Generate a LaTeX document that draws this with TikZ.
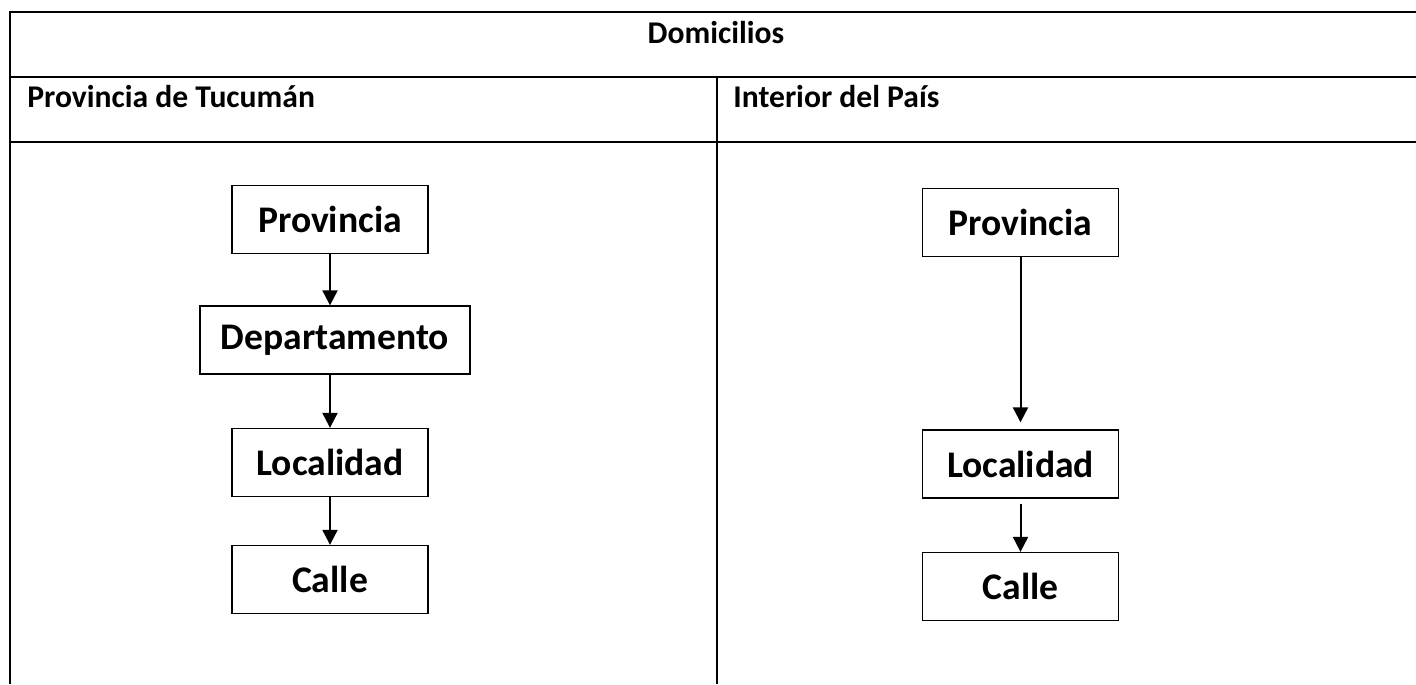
\documentclass[tikz,border=0pt]{standalone}
\usepackage{fontspec}
\setmainfont{Carlito}
\usetikzlibrary{positioning,arrows.meta}

\begin{document}
\begin{tikzpicture}[
    x=0.02cm, y=-0.02cm,
    regla/.style={line width=1.2pt},
    caja/.style={draw, line width=0.75pt, minimum width=3.92cm, minimum height=1.36cm, font=\fontsize{21.4}{25}\selectfont\bfseries},
    titulo/.style={font=\fontsize{18}{21}\selectfont\bfseries, inner sep=0pt},
    flecha/.style={draw, line width=1.15pt, -{Triangle[length=0.3cm, width=0.3cm]}}
]
\useasboundingbox (0,0) rectangle (1416,684);

% Table lines
\draw[regla] (10,684) -- (10,12) -- (1416,12);
\draw[regla] (10,77) -- (1416,77);
\draw[regla] (10,142) -- (1416,142);
\draw[regla] (717,77) -- (717,684);

% Headings
\node[titulo, anchor=base] (dom) at (716,43) {Domicilios};
\node[titulo, anchor=base west] (tuc) at (27,107) {Provincia de Tucumán};
\node[titulo, anchor=base west] (int) at (733,107) {Interior del País};

% Left column
\node[caja] (provA) at (330,219.5) {Provincia};
\node[caja, minimum width=5.4cm] (deptoA) at (335,340) {Departamento};
\node[caja] (locA) at (330,462.5) {Localidad};
\node[caja] (calleA) at (330,579.5) {Calle};

% Right column
\node[caja] (provB) at (1020.5,222.5) {Provincia};
\node[caja] (locB) at (1020.5,464) {Localidad};
\node[caja] (calleB) at (1020.5,586.5) {Calle};

% Arrows
\draw[flecha] (provA.south) -- (provA.south |- deptoA.north);
\draw[flecha] (provA.south |- deptoA.south) -- (locA.north);
\draw[flecha] (locA.south) -- (calleA.north);
\draw[flecha, shorten >=4pt] (provB.south) -- (locB.north);
\draw[flecha, shorten <=3pt] (locB.south) -- (calleB.north);

\end{tikzpicture}
\end{document}
